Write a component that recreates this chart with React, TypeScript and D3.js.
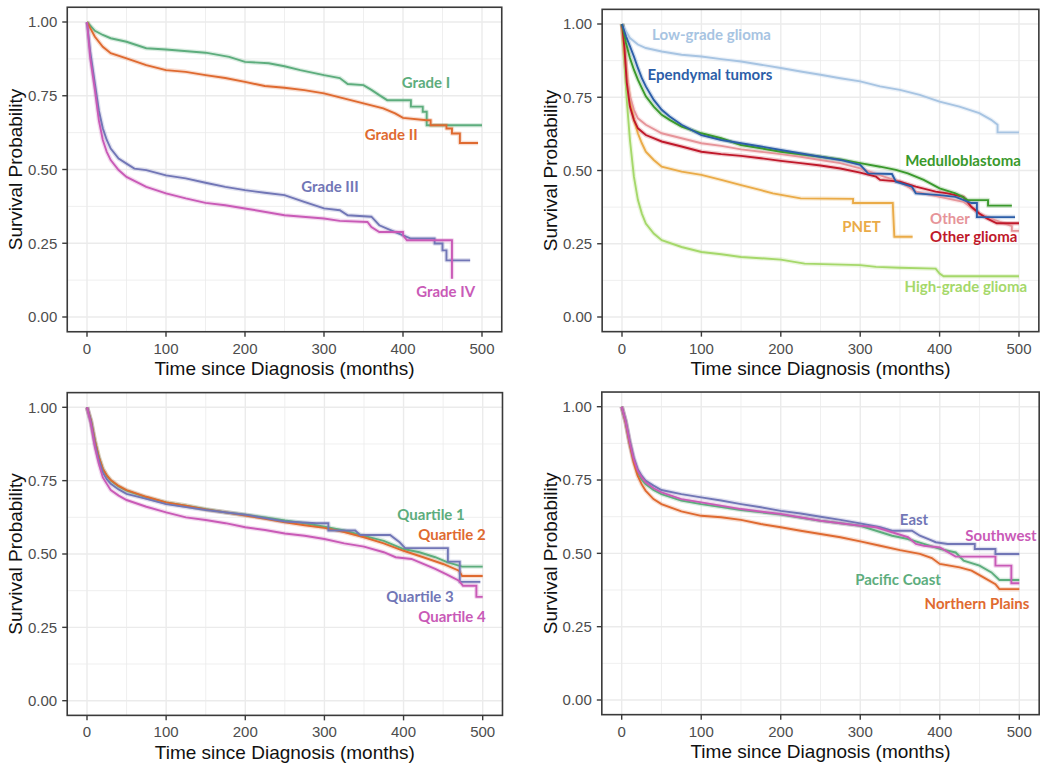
import React from 'react';
import * as d3 from 'd3';

type Pt = [number, number];

const xTicks = [0, 100, 200, 300, 400, 500];
const xMinor = [50, 150, 250, 350, 450];
const yTicks = [0, 0.25, 0.5, 0.75, 1];
const yMinor = [0.125, 0.375, 0.625, 0.875];
const yTickLabels = ['0.00', '0.25', '0.50', '0.75', '1.00'];
const xTitle = 'Time since Diagnosis (months)';
const yTitle = 'Survival Probability';

// Panel 1: Grade
const gradeI: Pt[] = [[0,1],[5,0.985],[10,0.97],[20,0.956],[30,0.945],[50,0.933],[75,0.911],[100,0.907],[150,0.896],[180,0.882],[200,0.865],[230,0.86],[250,0.85],[270,0.837],[300,0.82],[320,0.81],[330,0.79],[350,0.786],[360,0.77],[370,0.752],[380,0.735],[410,0.735],[410,0.713],[425,0.713],[425,0.696],[430,0.696],[430,0.65],[500,0.65]];
const gradeII: Pt[] = [[0,1],[5,0.975],[10,0.95],[20,0.916],[30,0.894],[50,0.877],[75,0.854],[100,0.837],[125,0.831],[150,0.82],[175,0.81],[200,0.797],[225,0.783],[250,0.777],[275,0.769],[300,0.758],[325,0.741],[350,0.724],[375,0.707],[390,0.69],[400,0.675],[430,0.667],[435,0.667],[435,0.65],[455,0.65],[455,0.639],[462,0.639],[462,0.622],[472,0.622],[472,0.59],[495,0.59]];
const gradeIII: Pt[] = [[0,1],[4,0.9],[10,0.79],[15,0.7],[20,0.64],[25,0.6],[30,0.571],[40,0.537],[50,0.52],[60,0.503],[75,0.498],[100,0.48],[125,0.47],[150,0.455],[175,0.441],[200,0.43],[225,0.421],[250,0.413],[275,0.39],[300,0.368],[320,0.362],[330,0.345],[360,0.34],[370,0.311],[385,0.294],[400,0.277],[410,0.266],[440,0.266],[440,0.249],[450,0.249],[450,0.226],[455,0.226],[455,0.192],[485,0.192]];
const gradeIV: Pt[] = [[0,1],[4,0.88],[10,0.77],[15,0.667],[20,0.6],[25,0.56],[30,0.532],[40,0.498],[50,0.475],[75,0.441],[100,0.419],[125,0.402],[150,0.387],[175,0.379],[200,0.368],[250,0.345],[300,0.334],[320,0.326],[355,0.322],[360,0.305],[370,0.288],[400,0.288],[400,0.277],[405,0.26],[462,0.26],[462,0.13]];

// Panel 2: Histology
const lowGrade: Pt[] = [[0,1],[5,0.975],[10,0.952],[20,0.93],[30,0.918],[50,0.906],[75,0.895],[100,0.889],[125,0.88],[150,0.872],[175,0.861],[200,0.85],[225,0.838],[250,0.827],[275,0.815],[300,0.804],[325,0.787],[350,0.775],[375,0.758],[400,0.735],[425,0.718],[450,0.696],[465,0.673],[473,0.656],[473,0.63],[500,0.63]];
const ependymal: Pt[] = [[0,1],[5,0.958],[10,0.924],[15,0.889],[20,0.85],[25,0.815],[30,0.787],[40,0.741],[50,0.707],[60,0.684],[75,0.656],[100,0.621],[125,0.604],[150,0.593],[175,0.582],[200,0.57],[250,0.547],[275,0.536],[300,0.519],[310,0.49],[340,0.488],[345,0.462],[365,0.445],[370,0.422],[400,0.416],[420,0.41],[440,0.389],[447,0.389],[447,0.341],[495,0.341]];
const medullo: Pt[] = [[0,1],[5,0.935],[10,0.884],[15,0.844],[20,0.81],[25,0.781],[30,0.753],[40,0.718],[50,0.69],[60,0.673],[75,0.65],[100,0.627],[125,0.61],[150,0.587],[175,0.576],[200,0.564],[250,0.547],[275,0.538],[300,0.525],[325,0.513],[345,0.502],[360,0.49],[380,0.468],[400,0.439],[420,0.422],[429,0.41],[435,0.399],[461,0.399],[461,0.38],[491,0.38]];
const otherGlioma: Pt[] = [[0,1],[3,0.92],[6,0.8],[10,0.718],[15,0.673],[20,0.644],[30,0.621],[50,0.599],[75,0.582],[100,0.564],[125,0.556],[150,0.55],[175,0.542],[200,0.533],[225,0.525],[250,0.517],[275,0.507],[300,0.493],[320,0.479],[325,0.468],[350,0.462],[370,0.445],[395,0.428],[410,0.422],[430,0.41],[440,0.376],[450,0.353],[460,0.336],[472,0.32],[500,0.32]];
const otherHist: Pt[] = [[0,1],[3,0.93],[6,0.82],[10,0.753],[15,0.707],[20,0.678],[30,0.656],[50,0.627],[75,0.61],[100,0.593],[125,0.584],[150,0.572],[175,0.564],[200,0.556],[225,0.547],[250,0.536],[275,0.525],[300,0.507],[330,0.479],[350,0.462],[370,0.428],[400,0.41],[430,0.393],[450,0.353],[470,0.331],[491,0.31],[491,0.294],[500,0.294]];
const pnet: Pt[] = [[0,1],[3,0.9],[7,0.8],[10,0.741],[15,0.673],[20,0.627],[25,0.593],[30,0.564],[40,0.536],[50,0.513],[75,0.496],[100,0.485],[125,0.468],[150,0.45],[175,0.433],[190,0.422],[225,0.405],[291,0.403],[291,0.389],[341,0.389],[343,0.274],[366,0.274]];
const highGrade: Pt[] = [[0,1],[3,0.878],[6,0.741],[10,0.604],[15,0.479],[20,0.4],[25,0.353],[30,0.319],[40,0.285],[50,0.262],[75,0.239],[100,0.222],[125,0.214],[150,0.205],[200,0.196],[230,0.182],[300,0.177],[320,0.171],[350,0.168],[395,0.165],[400,0.148],[405,0.139],[500,0.139]];

// Panel 3: Quartiles
const quart1: Pt[] = [[0,1],[5,0.955],[10,0.886],[15,0.83],[20,0.79],[25,0.767],[30,0.75],[40,0.73],[50,0.716],[75,0.693],[100,0.676],[125,0.665],[150,0.653],[175,0.642],[200,0.634],[225,0.625],[250,0.614],[275,0.605],[300,0.593],[325,0.58],[350,0.562],[375,0.545],[400,0.517],[420,0.506],[440,0.489],[455,0.472],[474,0.457],[500,0.457]];
const quart2: Pt[] = [[0,1],[5,0.955],[10,0.886],[15,0.83],[20,0.79],[25,0.768],[30,0.752],[40,0.732],[50,0.718],[75,0.695],[100,0.676],[125,0.665],[150,0.652],[175,0.642],[200,0.631],[225,0.62],[250,0.608],[275,0.598],[300,0.589],[325,0.575],[350,0.557],[375,0.536],[400,0.511],[425,0.489],[450,0.466],[470,0.443],[474,0.425],[500,0.425]];
const quart3: Pt[] = [[0,1],[5,0.95],[10,0.875],[15,0.82],[20,0.778],[25,0.755],[30,0.739],[40,0.72],[50,0.705],[75,0.688],[100,0.67],[150,0.65],[200,0.634],[250,0.611],[290,0.605],[305,0.605],[305,0.58],[339,0.58],[345,0.565],[383,0.565],[395,0.54],[402,0.52],[456,0.52],[456,0.474],[471,0.474],[471,0.405],[497,0.405]];
const quart4: Pt[] = [[0,1],[5,0.943],[10,0.864],[15,0.807],[20,0.761],[25,0.739],[30,0.718],[40,0.699],[50,0.684],[75,0.661],[100,0.642],[125,0.625],[150,0.616],[175,0.605],[200,0.591],[225,0.582],[250,0.57],[275,0.562],[300,0.551],[325,0.536],[350,0.525],[375,0.506],[390,0.489],[410,0.483],[425,0.466],[440,0.449],[455,0.43],[470,0.409],[475,0.392],[492,0.392],[492,0.354],[500,0.354]];

// Panel 4: Regions
const east: Pt[] = [[0,1],[5,0.952],[10,0.884],[15,0.827],[20,0.788],[25,0.765],[30,0.748],[40,0.731],[50,0.716],[75,0.702],[100,0.691],[125,0.68],[150,0.668],[175,0.657],[200,0.645],[225,0.636],[250,0.625],[275,0.614],[300,0.602],[325,0.589],[340,0.577],[365,0.577],[375,0.56],[385,0.549],[395,0.538],[410,0.532],[444,0.532],[444,0.515],[470,0.515],[470,0.498],[500,0.498]];
const southwest: Pt[] = [[0,1],[5,0.95],[10,0.88],[15,0.822],[20,0.782],[25,0.76],[30,0.742],[40,0.722],[50,0.708],[75,0.685],[100,0.674],[150,0.651],[200,0.634],[250,0.611],[300,0.594],[320,0.589],[340,0.572],[360,0.555],[370,0.532],[380,0.526],[400,0.52],[420,0.489],[470,0.489],[470,0.458],[490,0.458],[490,0.398],[500,0.398]];
const pacific: Pt[] = [[0,1],[5,0.948],[10,0.876],[15,0.818],[20,0.776],[25,0.752],[30,0.736],[40,0.716],[50,0.702],[75,0.68],[100,0.668],[150,0.648],[200,0.632],[250,0.611],[300,0.594],[320,0.577],[340,0.56],[360,0.549],[380,0.532],[400,0.515],[420,0.503],[430,0.475],[450,0.458],[465,0.435],[475,0.409],[500,0.409]];
const northern: Pt[] = [[0,1],[5,0.945],[10,0.873],[15,0.81],[20,0.765],[25,0.736],[30,0.714],[40,0.685],[50,0.668],[75,0.643],[100,0.628],[125,0.623],[150,0.614],[175,0.6],[200,0.589],[225,0.577],[250,0.566],[275,0.555],[300,0.541],[325,0.526],[350,0.511],[375,0.498],[390,0.484],[400,0.464],[425,0.452],[440,0.441],[455,0.418],[470,0.395],[475,0.378],[500,0.378]];

type Series = { name: string; data: Pt[]; color: string; lab: Pt; anchor?: string };

const panel1: Series[] = [
  { name: 'Grade I', data: gradeI, color: '#5dad7d', lab: [429, 0.776] },
  { name: 'Grade II', data: gradeII, color: '#df6a30', lab: [385, 0.6] },
  { name: 'Grade III', data: gradeIII, color: '#7176b6', lab: [307.6, 0.424] },
  { name: 'Grade IV', data: gradeIV, color: '#c95ab7', lab: [454, 0.068] },
];
const panel2: Series[] = [
  { name: 'Low-grade glioma', data: lowGrade, color: '#a7c4e2', lab: [112.7, 0.945] },
  { name: 'High-grade glioma', data: highGrade, color: '#a5d86a', lab: [433, 0.085] },
  { name: 'PNET', data: pnet, color: '#eaab48', lab: [301.6, 0.29] },
  { name: 'Other', data: otherHist, color: '#e69499', lab: [388, 0.317], anchor: 'start' },
  { name: 'Other glioma', data: otherGlioma, color: '#c0182a', lab: [388, 0.256], anchor: 'start' },
  { name: 'Medulloblastoma', data: medullo, color: '#3a992c', lab: [429.5, 0.515] },
  { name: 'Ependymal tumors', data: ependymal, color: '#2c5ea8', lab: [110.8, 0.809] },
];
const panel3: Series[] = [
  { name: 'Quartile 1', data: quart1, color: '#5dad7d', lab: [434.7, 0.616] },
  { name: 'Quartile 2', data: quart2, color: '#df6a30', lab: [461.2, 0.548] },
  { name: 'Quartile 3', data: quart3, color: '#7176b6', lab: [420.8, 0.336] },
  { name: 'Quartile 4', data: quart4, color: '#c95ab7', lab: [461.2, 0.268] },
];
const panel4: Series[] = [
  { name: 'Pacific Coast', data: pacific, color: '#5dad7d', lab: [347.5, 0.392] },
  { name: 'Northern Plains', data: northern, color: '#df6a30', lab: [446.8, 0.31] },
  { name: 'East', data: east, color: '#7176b6', lab: [367.6, 0.597] },
  { name: 'Southwest', data: southwest, color: '#c95ab7', lab: [477, 0.542] },
];

type Geo = { x0: number; x500: number; y1: number; y0: number; yTitleX: number };

const AXIS_FONT = "'Liberation Sans', Arial, sans-serif";
const LABEL_FONT = "Lato, 'Open Sans', sans-serif";

function Panel({ geo, series }: { geo: Geo; series: Series[] }) {
  const pxPerT = (geo.x500 - geo.x0) / 500;
  const pxPerS = geo.y0 - geo.y1;
  const x = d3.scaleLinear().domain([-25, 525]).range([geo.x0 - 25 * pxPerT, geo.x500 + 25 * pxPerT]);
  const y = d3.scaleLinear().domain([-0.05, 1.05]).range([geo.y0 + 0.05 * pxPerS, geo.y1 - 0.05 * pxPerS]);
  const [xl, xr] = x.range();
  const [yb, yt] = y.range();
  const line = d3.line<Pt>().x(d => x(d[0])).y(d => y(d[1])).curve(d3.curveLinear);
  const grid = '#ebebeb';
  return (
    <g>
      <rect x={xl} y={yt} width={xr - xl} height={yb - yt} fill="#fff" />
      {xMinor.map(t => <line key={'xm' + t} x1={x(t)} x2={x(t)} y1={yt} y2={yb} stroke={grid} strokeWidth={0.8} />)}
      {yMinor.map(s => <line key={'ym' + s} x1={xl} x2={xr} y1={y(s)} y2={y(s)} stroke={grid} strokeWidth={0.8} />)}
      {xTicks.map(t => <line key={'xg' + t} x1={x(t)} x2={x(t)} y1={yt} y2={yb} stroke={grid} strokeWidth={1.4} />)}
      {yTicks.map(s => <line key={'yg' + s} x1={xl} x2={xr} y1={y(s)} y2={y(s)} stroke={grid} strokeWidth={1.4} />)}
      {series.map(s => (
        <path key={'b' + s.name} d={line(s.data) || ''} fill="none" stroke={s.color} strokeOpacity={0.22} strokeWidth={4.5} strokeLinejoin="round" />
      ))}
      {series.map(s => (
        <path key={'l' + s.name} d={line(s.data) || ''} fill="none" stroke={s.color} strokeWidth={1.9} strokeLinejoin="miter" />
      ))}
      <rect x={xl} y={yt} width={xr - xl} height={yb - yt} fill="none" stroke="#3a3a3a" strokeWidth={1.6} />
      {xTicks.map(t => (
        <g key={'xt' + t}>
          <line x1={x(t)} x2={x(t)} y1={yb} y2={yb + 5} stroke="#3a3a3a" strokeWidth={1.4} />
          <text x={x(t)} y={yb + 22} textAnchor="middle" fontFamily={AXIS_FONT} fontSize={15} fill="#4d4d4d">{t}</text>
        </g>
      ))}
      {yTicks.map((s, i) => (
        <g key={'yt' + s}>
          <line x1={xl - 5} x2={xl} y1={y(s)} y2={y(s)} stroke="#3a3a3a" strokeWidth={1.4} />
          <text x={xl - 10} y={y(s) + 5.3} textAnchor="end" fontFamily={AXIS_FONT} fontSize={15} fill="#4d4d4d">{yTickLabels[i]}</text>
        </g>
      ))}
      <text x={(xl + xr) / 2} y={yb + 43.5} textAnchor="middle" fontFamily={AXIS_FONT} fontSize={19} fill="#111">{xTitle}</text>
      <text transform={`translate(${geo.yTitleX + 6.5},${(yt + yb) / 2}) rotate(-90)`} textAnchor="middle" fontFamily={AXIS_FONT} fontSize={19} fill="#111">{yTitle}</text>
      {series.map(s => (
        <text key={'t' + s.name} x={x(s.lab[0])} y={y(s.lab[1])} textAnchor={s.anchor || 'middle'} fontFamily={LABEL_FONT} fontWeight={700} fontSize={15} fill={s.color}>{s.name}</text>
      ))}
    </g>
  );
}

const geo1: Geo = { x0: 87, x500: 482, y1: 22, y0: 317, yTitleX: 15 };
const geo2: Geo = { x0: 622, x500: 1019, y1: 24, y0: 317, yTitleX: 550 };
const geo3: Geo = { x0: 87, x500: 482.7, y1: 407.3, y0: 700.7, yTitleX: 15 };
const geo4: Geo = { x0: 621.7, x500: 1019.3, y1: 406.7, y0: 700, yTitleX: 550 };

export default function App() {
  return (
    <svg width={1050} height={768} style={{ position: 'absolute', left: 0, top: 0, background: '#fff' }}>
      <rect width={1050} height={768} fill="#fff" />
      <Panel geo={geo1} series={panel1} />
      <Panel geo={geo2} series={panel2} />
      <Panel geo={geo3} series={panel3} />
      <Panel geo={geo4} series={panel4} />
    </svg>
  );
}
